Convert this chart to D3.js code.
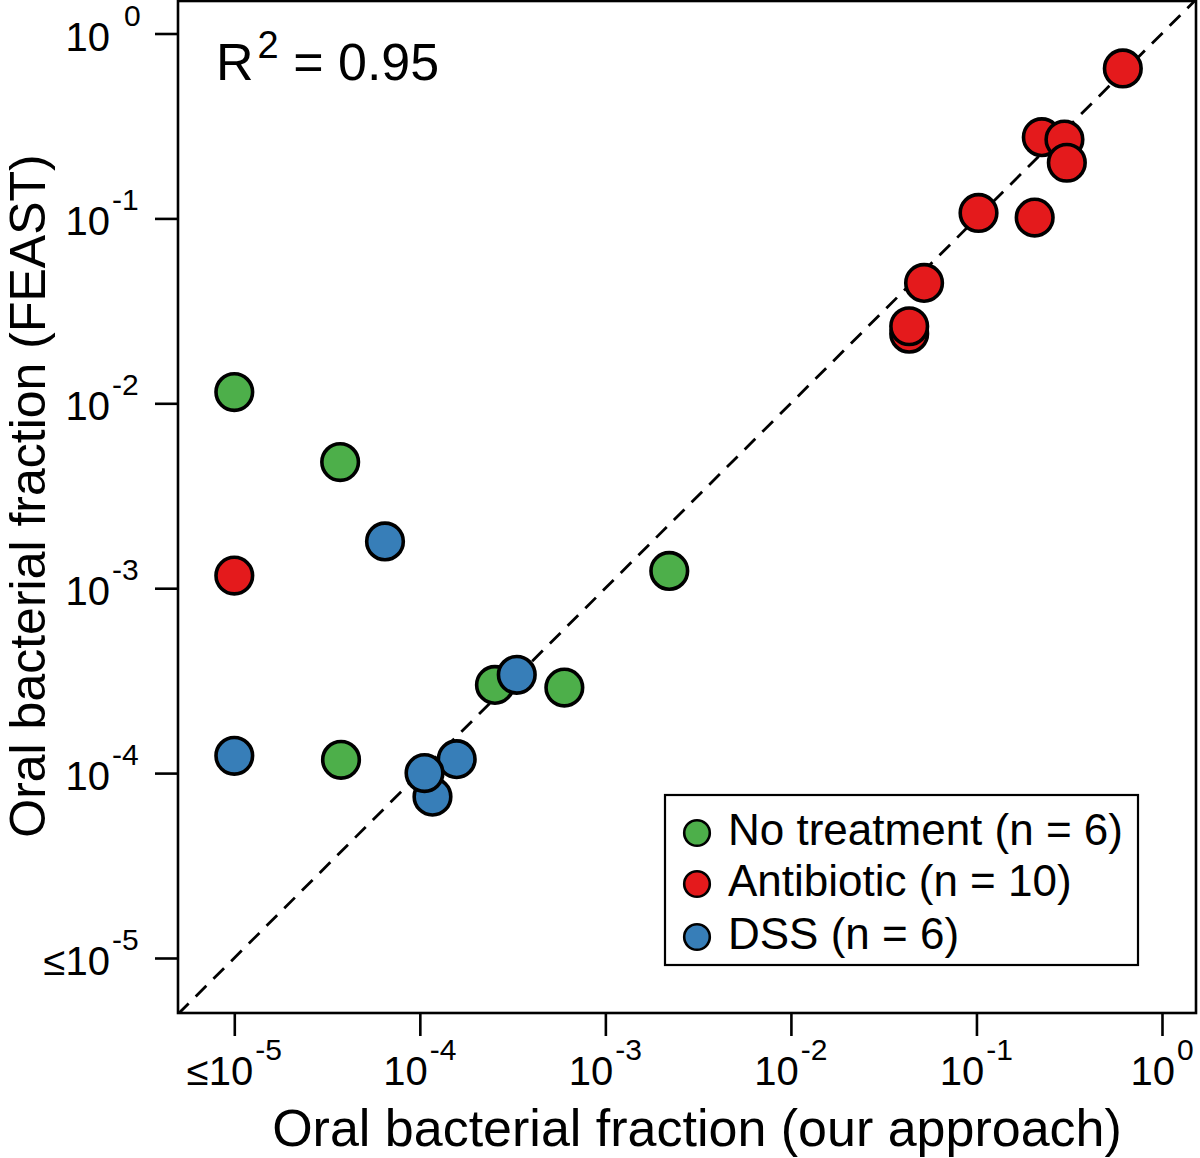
<!DOCTYPE html>
<html>
<head>
<meta charset="utf-8">
<script src="https://cdn.jsdelivr.net/npm/d3@7"></script>
<style>
  html, body { margin: 0; padding: 0; background: #fff; }
  svg { display: block; font-family: "Liberation Sans", Arial, sans-serif; }
</style>
</head>
<body>
<svg id="chart" width="1200" height="1158"></svg>
<script>
// ---- data ----
const groupNames = ["No treatment (n = 6)", "Antibiotic (n = 10)", "DSS (n = 6)"];
const groupColors = ["#4DAF4A", "#E41A1C", "#377EB8"];

const noTreatX = [1e-5, 3.72e-5, 2.21e-3, 2.54e-4, 6.01e-4, 3.76e-5];
const noTreatY = [0.0115, 4.81e-3, 1.24e-3, 3.0e-4, 2.90e-4, 1.18e-4];

const antibioticX = [0.615, 0.225, 0.298, 0.307, 0.1026, 0.206, 0.0522, 0.0434, 0.0434, 1e-5];
const antibioticY = [0.647, 0.275, 0.267, 0.200, 0.107, 0.101, 0.0448, 0.0238, 0.0261, 1.17e-3];

const dssX = [6.49e-5, 3.33e-4, 1e-5, 1.17e-4, 1.58e-4, 1.06e-4];
const dssY = [1.79e-3, 3.40e-4, 1.24e-4, 7.46e-5, 1.19e-4, 1.0e-4];

const tickExponents = [-5, -4, -3, -2, -1, 0];
const tickPrefixes = ["≤", "", "", "", "", ""];
const xTitle = "Oral bacterial fraction (our approach)";
const yTitle = "Oral bacterial fraction (FEAST)";
const r2Label = "R";
const r2Sup = "2";
const r2Value = " = 0.95";

// ---- layout ----
const svg = d3.select("#chart");
const L = 178, R = 1196, T = 1, B = 1013;

const x = d3.scaleLog().domain([Math.pow(10, -5.3034), Math.pow(10, 0.1833)]).range([L, R]);
const y = d3.scaleLog().domain([Math.pow(10, -5.2975), Math.pow(10, 0.1758)]).range([B, T]);

svg.append("rect").attr("width", 1200).attr("height", 1158).attr("fill", "#fff");

svg.append("defs").append("clipPath").attr("id", "clip")
  .append("rect").attr("x", L).attr("y", T).attr("width", R - L).attr("height", B - T);

// diagonal y = x
const dom = x.domain();
svg.append("line")
  .attr("clip-path", "url(#clip)")
  .attr("x1", x(dom[0])).attr("y1", y(dom[0]))
  .attr("x2", x(dom[1])).attr("y2", y(dom[1]))
  .attr("stroke", "#000").attr("stroke-width", 2.8)
  .attr("stroke-dasharray", "15,10");

// points
const series = [
  { xs: noTreatX, ys: noTreatY, color: groupColors[0] },
  { xs: antibioticX, ys: antibioticY, color: groupColors[1] },
  { xs: dssX, ys: dssY, color: groupColors[2] }
];
series.forEach(s => {
  const pts = s.xs.map((v, i) => ({ x: v, y: s.ys[i] }));
  svg.append("g").selectAll("circle").data(pts).join("circle")
    .attr("cx", d => x(d.x)).attr("cy", d => y(d.y))
    .attr("r", 18.3)
    .attr("fill", s.color)
    .attr("stroke", "#000").attr("stroke-width", 3.6);
});

// axes
const tickVals = tickExponents.map(e => Math.pow(10, e));
const xAxis = svg.append("g").attr("transform", `translate(0,${B})`)
  .call(d3.axisBottom(x).tickValues(tickVals).tickSize(23).tickFormat(""));
const yAxis = svg.append("g").attr("transform", `translate(${L},0)`)
  .call(d3.axisLeft(y).tickValues(tickVals).tickSize(23).tickFormat(""));
[xAxis, yAxis].forEach(a => {
  a.select(".domain").remove();
  a.selectAll(".tick line").attr("stroke", "#000").attr("stroke-width", 2.6);
});

// frame
svg.append("rect").attr("x", L).attr("y", T).attr("width", R - L).attr("height", B - T)
  .attr("fill", "none").attr("stroke", "#000").attr("stroke-width", 2.6);

// x tick labels
tickExponents.forEach((e, i) => {
  const t = svg.append("text")
    .attr("x", x(tickVals[i])).attr("y", 1085)
    .attr("text-anchor", "middle")
    .attr("font-size", 40).attr("fill", "#000");
  t.append("tspan").text(tickPrefixes[i] + "10");
  t.append("tspan").attr("dx", 2).attr("dy", -25).attr("font-size", 30).text(String(e));
});

// y tick labels
tickExponents.forEach((e, i) => {
  const ty = y(tickVals[i]);
  svg.append("text")
    .attr("x", 110).attr("y", ty + 17)
    .attr("text-anchor", "end")
    .attr("font-size", 40).attr("fill", "#000")
    .text(tickPrefixes[i] + "10");
  svg.append("text")
    .attr("x", e === 0 ? 124 : 112).attr("y", ty - 8)
    .attr("text-anchor", "start")
    .attr("font-size", 30).attr("fill", "#000")
    .text(String(e));
});

// axis titles
svg.append("text")
  .attr("x", 697).attr("y", 1146)
  .attr("text-anchor", "middle")
  .attr("font-size", 52).attr("fill", "#000")
  .text(xTitle);
svg.append("text")
  .attr("transform", `translate(45,${496}) rotate(-90)`)
  .attr("text-anchor", "middle")
  .attr("font-size", 50).attr("fill", "#000")
  .text(yTitle);

// R^2
const rt = svg.append("text").attr("x", 216).attr("y", 80)
  .attr("font-size", 52).attr("fill", "#000");
rt.append("tspan").text(r2Label);
rt.append("tspan").attr("dx", 4).attr("dy", -22).attr("font-size", 38).text(r2Sup);
rt.append("tspan").attr("dy", 22).text(r2Value);

// legend
const lg = svg.append("g");
lg.append("rect").attr("x", 665).attr("y", 795).attr("width", 473).attr("height", 170)
  .attr("fill", "#fff").attr("stroke", "#000").attr("stroke-width", 2.2);
const rowY = [833, 884, 937];
groupNames.forEach((name, i) => {
  lg.append("circle").attr("cx", 697).attr("cy", rowY[i]).attr("r", 12.8)
    .attr("fill", groupColors[i]).attr("stroke", "#000").attr("stroke-width", 2.6);
  lg.append("text").attr("x", 728).attr("y", rowY[i] + 12)
    .attr("font-size", 44).attr("fill", "#000").text(name);
});
</script>
</body>
</html>
